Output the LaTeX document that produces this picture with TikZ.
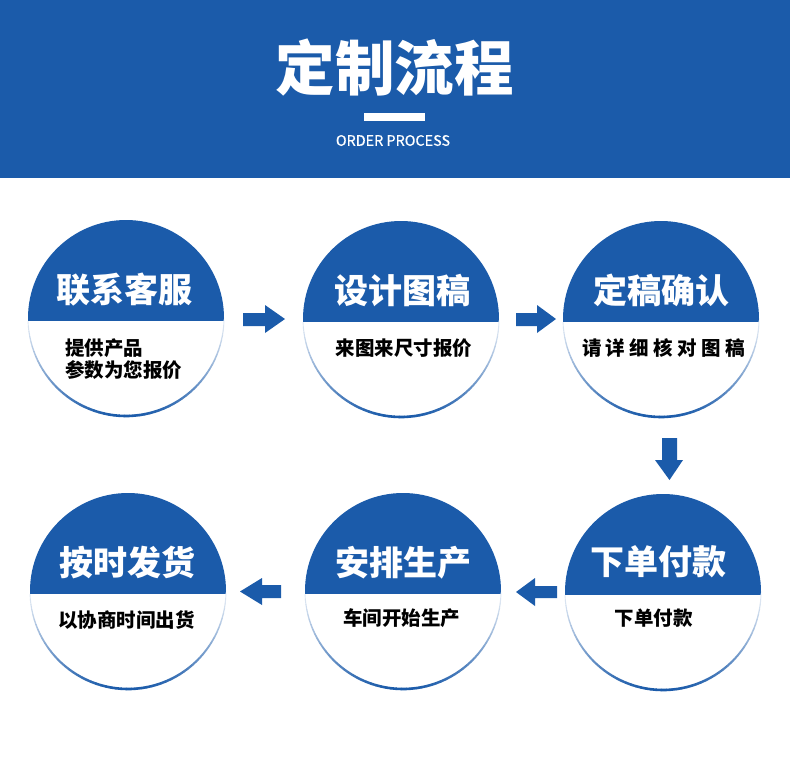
\documentclass[tikz,border=0pt]{standalone}
\usepackage{fontspec}
\newfontfamily\cjk{Noto Sans CJK SC}
\newfontfamily\latinsans{Noto Sans CJK SC}[FakeBold=0.6]
\definecolor{mainblue}{RGB}{27,91,170}
\tikzset{
  stepcircle/.style={circle, minimum size=196pt, inner sep=0pt, outer sep=0pt},
  titletext/.style={text=white, font=\cjk\bfseries\fontsize{34}{34}\selectfont, inner sep=0pt},
  subtext/.style={text=black, font=\cjk\bfseries\fontsize{19.5}{23}\selectfont, inner sep=0pt},
  blockarrow/.style={fill=mainblue, draw=none},
}
\newcommand\stepcirc[6]{%
  \node[stepcircle] (#1) at (#2,#3) {};
  \begin{scope}
    \clip (#2,#3) circle[radius=98pt];
    \fill[mainblue] (#2-100,#3-100) rectangle (#2+100,#3+3);
  \end{scope}
  \foreach \a in {182,185,...,356} {
    \pgfmathtruncatemacro\b{\a+3}
    \pgfmathsetmacro\p{12+88*abs(sin(\a+1.5))^1.3}
    \pgfmathsetmacro\w{0.8+1.8*abs(sin(\a+1.5))}
    \draw[draw=mainblue!\p!white, line width=\w pt, line cap=round] (#1.\a) -- (#1.\b);
  }
  \node[titletext] (#1t) at (#5,#6) {#4};
}
\begin{document}
\begin{tikzpicture}[x=1pt, y=-1pt]
\fill[white] (0,0) rectangle (790,772);
\useasboundingbox (0,0) rectangle (790,772);
% header
\fill[mainblue] (0,0) rectangle (790,178);
\node[text=white, inner sep=0pt, font=\cjk\bfseries\fontsize{59.5}{59.5}\selectfont] (title) at (394.5,68) {定制流程};
\fill[white] (364,113) rectangle (425,121);
\node[text=white, inner sep=0pt, font=\latinsans\fontsize{14.4}{14.4}\selectfont] (subtitle) at (393,140.5) {ORDER PROCESS};
% circles
\stepcirc{c1}{126}{318}{联系客服}{124}{290}
\stepcirc{c2}{401}{319}{设计图稿}{402}{291}
\stepcirc{c3}{661}{319}{定稿确认}{661}{290}
\stepcirc{c4}{128}{591}{按时发货}{127.5}{562}
\stepcirc{c5}{403}{591}{安排生产}{403.5}{563}
\stepcirc{c6}{663}{592}{下单付款}{658.5}{562}
% subtitles
\node[subtext, anchor=west] (c1s1) at (65,348) {提供产品};
\node[subtext, anchor=west] (c1s2) at (65,370) {参数为您报价};
\node[subtext] (c2s) at (404,348) {来图来尺寸报价};
\node[subtext] (c3s) at (663.5,348) {请\hspace{4.4pt}详\hspace{4.4pt}细\hspace{4.4pt}核\hspace{4.4pt}对\hspace{4.4pt}图\hspace{4.4pt}稿};
\node[subtext] (c4s) at (126.5,620) {以协商时间出货};
\node[subtext] (c5s) at (401.5,618) {车间开始生产};
\node[subtext] (c6s) at (653.5,618) {下单付款};
% block arrows
\fill[blockarrow] (243,313) -- (265,313) -- (265,305) -- (285,319) -- (265,333) -- (265,326) -- (243,326) -- cycle;
\fill[blockarrow] (516,313) -- (537,313) -- (537,305) -- (556,319) -- (537,333) -- (537,326) -- (516,326) -- cycle;
\fill[blockarrow] (662,438) -- (677,438) -- (677,460) -- (683,460) -- (669.5,480) -- (655,460) -- (662,460) -- cycle;
\fill[blockarrow] (281,585) -- (262,585) -- (262,578) -- (240,591.5) -- (262,605) -- (262,598) -- (281,598) -- cycle;
\fill[blockarrow] (557,586) -- (535,586) -- (535,578) -- (516,592) -- (535,606) -- (535,598) -- (557,598) -- cycle;
\end{tikzpicture}
\end{document}
